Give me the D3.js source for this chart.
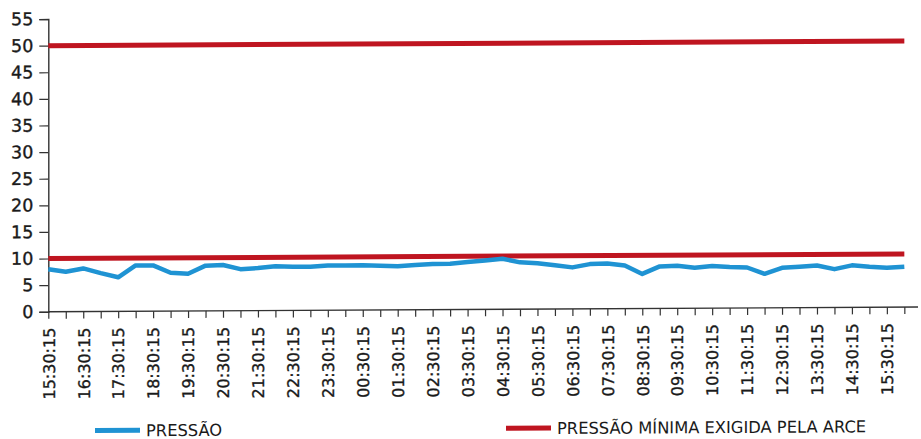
<!DOCTYPE html>
<html>
<head>
<meta charset="utf-8">
<script src="https://cdn.jsdelivr.net/npm/d3@7"></script>
<style>
  html, body { margin: 0; padding: 0; background: #fff; }
  svg { display: block; }
  text { font-family: "DejaVu Sans", sans-serif; fill: #1a1a1a; }
</style>
</head>
<body>
<svg id="chart" width="921" height="439"></svg>
<script>
// ---- data ----
const categories = [
  "15:30:15","16:00:15","16:30:15","17:00:15","17:30:15","18:00:15","18:30:15","19:00:15",
  "19:30:15","20:00:15","20:30:15","21:00:15","21:30:15","22:00:15","22:30:15","23:00:15",
  "23:30:15","00:00:15","00:30:15","01:00:15","01:30:15","02:00:15","02:30:15","03:00:15",
  "03:30:15","04:00:15","04:30:15","05:00:15","05:30:15","06:00:15","06:30:15","07:00:15",
  "07:30:15","08:00:15","08:30:15","09:00:15","09:30:15","10:00:15","10:30:15","11:00:15",
  "11:30:15","12:00:15","12:30:15","13:00:15","13:30:15","14:00:15","14:30:15","15:00:15",
  "15:30:15","16:00:15"
];
const pressao = [
  8.0, 7.5, 8.1, 7.2, 6.4, 8.6, 8.6, 7.2, 7.0, 8.5,
  8.6, 7.8, 8.0, 8.3, 8.2, 8.2, 8.4, 8.4, 8.4, 8.3,
  8.2, 8.4, 8.6, 8.6, 8.9, 9.2, 9.5, 8.8, 8.6, 8.2,
  7.8, 8.4, 8.5, 8.1, 6.5, 7.9, 8.0, 7.6, 7.9, 7.7,
  7.6, 6.4, 7.5, 7.7, 7.9, 7.2, 7.9, 7.6, 7.4, 7.6
];
const pressaoMinima = [10, 10];   // PRESSÃO MÍNIMA EXIGIDA PELA ARCE
const pressaoMaxima = [50, 50];
const yTicks = [0, 5, 10, 15, 20, 25, 30, 35, 40, 45, 50, 55];
const seriesNames = ["PRESSÃO", "PRESSÃO MÍNIMA EXIGIDA PELA ARCE"];

// ---- layout ----
const svg = d3.select("#chart");
const x0 = 48.3, step = 17.47;
const xEnd = x0 + step * (categories.length - 1);
const yZero = 309.5, yTop = 16.8;
const blue = "#1f93d3", red = "#bf1520";

// the scanned chart is slightly tilted
const g = svg.append("g")
  .attr("transform", "translate(460,0) skewY(-0.31) translate(-460,0)");

const x = d3.scalePoint().domain(d3.range(categories.length)).range([x0, xEnd]);
const y = d3.scaleLinear().domain([0, 55]).range([yZero, yTop]);

// y axis
const yAxis = d3.axisLeft(y).tickValues(yTicks).tickSize(9).tickPadding(6);
const ya = g.append("g").attr("transform", `translate(${x0},0)`).call(yAxis);
ya.select(".domain").attr("stroke", "#333").attr("stroke-width", 1.4);
ya.selectAll(".tick line").attr("stroke", "#333").attr("stroke-width", 1.2);
ya.selectAll(".tick text").style("font-size", "17.5px").attr("fill", "#1a1a1a")
  .attr("stroke", "#1a1a1a").attr("stroke-width", 0.35);

// x axis
const xAxis = d3.axisBottom(x).tickSize(7).tickSizeOuter(0)
  .tickFormat((d, i) => i % 2 === 0 ? categories[i] : "");
const xa = g.append("g").attr("transform", `translate(0,${yZero})`).call(xAxis);
xa.select(".domain").remove();
xa.append("line").attr("x1", x0).attr("x2", 918).attr("y1", 0).attr("y2", 0)
  .attr("stroke", "#333").attr("stroke-width", 1.4);
xa.selectAll(".tick line").attr("stroke", "#333").attr("stroke-width", 1.2);
xa.selectAll(".tick text")
  .style("font-size", "16px")
  .attr("fill", "#1a1a1a")
  .attr("stroke", "#1a1a1a").attr("stroke-width", 0.35)
  .attr("text-anchor", "end")
  .attr("transform", "rotate(-90)")
  .attr("x", -16)
  .attr("y", 0)
  .attr("dy", "0.36em");

// reference lines (red)
const refX = d3.scaleLinear().domain([0, 1]).range([x0, xEnd]);
[pressaoMaxima, pressaoMinima].forEach(arr => {
  g.append("path")
    .datum(arr)
    .attr("fill", "none")
    .attr("stroke", red)
    .attr("stroke-width", 5)
    .attr("d", d3.line().x((d, i) => refX(i)).y(d => y(d)));
});

// pressure line (blue)
g.append("path")
  .datum(pressao)
  .attr("fill", "none")
  .attr("stroke", blue)
  .attr("stroke-width", 4.5)
  .attr("stroke-linejoin", "round")
  .attr("d", d3.line().x((d, i) => x(i)).y(d => y(d)));

// legend
const legend = [
  { name: seriesNames[0], color: blue, x: 95 },
  { name: seriesNames[1], color: red, x: 506 }
];
const lg = g.append("g");
legend.forEach(l => {
  lg.append("line").attr("x1", l.x).attr("x2", l.x + 45)
    .attr("y1", 428.5).attr("y2", 428.5)
    .attr("stroke", l.color).attr("stroke-width", 5);
  lg.append("text").attr("x", l.x + 51).attr("y", 434.5)
    .style("font-size", "16.3px").text(l.name);
});
</script>
</body>
</html>
